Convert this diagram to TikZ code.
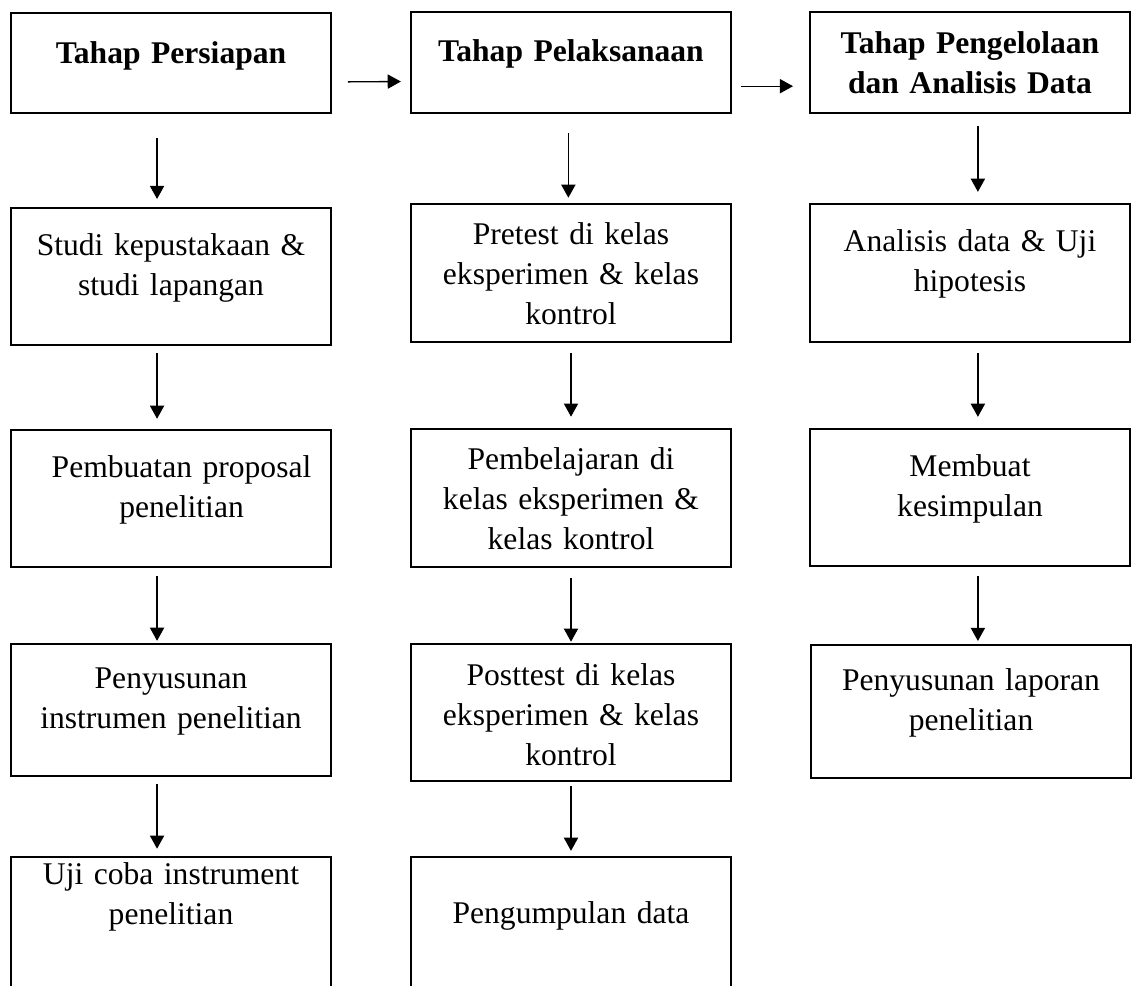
\documentclass[tikz,border=0pt]{standalone}
\usepackage{fontspec}
\setmainfont{Liberation Serif}
\usetikzlibrary{arrows.meta}
\tikzset{
    stagebox/.style 2 args={
        rectangle,
        draw=black,
        line width=0.9pt,
        minimum width=121.6pt,
        text width=118pt,
        inner sep=0pt,
        align=center,
        text height=#1,
        text depth=#2,
        font=\fontsize{12pt}{15.2pt}\selectfont
    },
    stagehead/.style 2 args={
        stagebox={#1}{#2},
        font=\fontsize{12pt}{15.2pt}\selectfont\bfseries
    },
    flow/.style={
        -{Triangle[length=5pt, width=5.4pt]},
        line width=0.5pt,
        shorten >=3pt,
        shorten <=3pt
    }
}

\begin{document}
\begin{tikzpicture}[x=0.38pt, y=-0.38pt]
\useasboundingbox (0,0) rectangle (1132,985);
\clip (0,0) rectangle (1132,985);

% Stages
\node[stagehead={19pt}{19pt}] (prep) at (171,63) {Tahap Persiapan};
\node[stagehead={19pt}{19.4pt}] (exec) at (571,62.5) {Tahap Pelaksanaan};
\node[stagehead={15.6pt}{22.8pt}] (anal) at (970,62.5) {Tahap Pengelolaan\\dan Analisis Data};

% Persiapan column
\node[stagebox={18.2pt}{33.8pt}] (studi) at (171,276.5) {Studi kepustakaan \&\\studi lapangan};
\node[stagebox={17.9pt}{34.2pt}] (proposal) at (171,498.5) {\hspace*{8pt}Pembuatan proposal\\\hspace*{8pt}penelitian};
\node[stagebox={16.7pt}{33.4pt}] (instrumen) at (171,710) {Penyusunan\hspace*{6pt}\\instrumen penelitian\hspace*{6pt}};
\node[stagebox={10.6pt}{42.6pt}] (ujicoba) at (171,927) {Uji coba instrument\\penelitian};

% Pelaksanaan column
\node[stagebox={15.6pt}{36.9pt}] (pretest) at (571,273) {Pretest di kelas\\eksperimen \& kelas\\kontrol};
\node[stagebox={15.6pt}{36.9pt}] (belajar) at (571,498) {Pembelajaran di\\kelas eksperimen \&\\kelas kontrol};
\node[stagebox={15.6pt}{36.5pt}] (posttest) at (571,712.5) {Posttest di kelas\\eksperimen \& kelas\\kontrol};
\node[stagebox={25.1pt}{28.1pt}] (kumpul) at (571,927) {Pengumpulan data};

% Pengelolaan column
\node[stagebox={18.2pt}{34.2pt}] (hipotesis) at (970,273) {Analisis data \& Uji\\hipotesis};
\node[stagebox={18.2pt}{33.8pt}] (simpulan) at (970,497.5) {Membuat\\kesimpulan};
\node[stagebox={17.1pt}{33.4pt}] (laporan) at (971,711.5) {Penyusunan laporan\\penelitian};

% Between stages
\draw[flow, shorten <=6pt, shorten >=3.4pt] ([yshift=-7.2pt]prep.east) -- ([yshift=-7.2pt]exec.west);
\draw[flow, shorten <=3.4pt, shorten >=6pt] ([yshift=-9pt]exec.east) -- ([yshift=-9pt]anal.west);

% Persiapan steps
\draw[flow, shorten <=9.1pt, shorten >=3pt] ([xshift=-5.3pt]prep.south) -- ([xshift=-5.3pt]studi.north);
\draw[flow, shorten <=2.7pt, shorten >=3.8pt] ([xshift=-5.3pt]studi.south) -- ([xshift=-5.3pt]proposal.north);
\draw[flow, shorten <=3pt, shorten >=0.8pt] ([xshift=-5.3pt]proposal.south) -- ([xshift=-5.3pt]instrumen.north);
\draw[flow, shorten <=2.7pt, shorten >=2.7pt] ([xshift=-5.3pt]instrumen.south) -- ([xshift=-5.3pt]ujicoba.north);

% Pelaksanaan steps
\draw[flow, shorten <=7.2pt, shorten >=1.9pt] ([xshift=-1pt]exec.south) -- ([xshift=-1pt]pretest.north);
\draw[flow, shorten <=3.8pt, shorten >=4.2pt] (pretest.south) -- (belajar.north);
\draw[flow, shorten <=3.8pt, shorten >=0.4pt] (belajar.south) -- (posttest.north);
\draw[flow, shorten <=1.5pt, shorten >=1.9pt] (posttest.south) -- (kumpul.north);

% Pengelolaan steps
\draw[flow, shorten <=4.6pt, shorten >=4.2pt] ([xshift=3pt]anal.south) -- ([xshift=3pt]hipotesis.north);
\draw[flow, shorten <=3.8pt, shorten >=4.2pt] ([xshift=3pt]hipotesis.south) -- ([xshift=3pt]simpulan.north);
\draw[flow, shorten <=3.4pt, shorten >=1.1pt] ([xshift=3pt]simpulan.south) -- ([xshift=3pt]simpulan.south |- laporan.north);

\end{tikzpicture}
\end{document}
